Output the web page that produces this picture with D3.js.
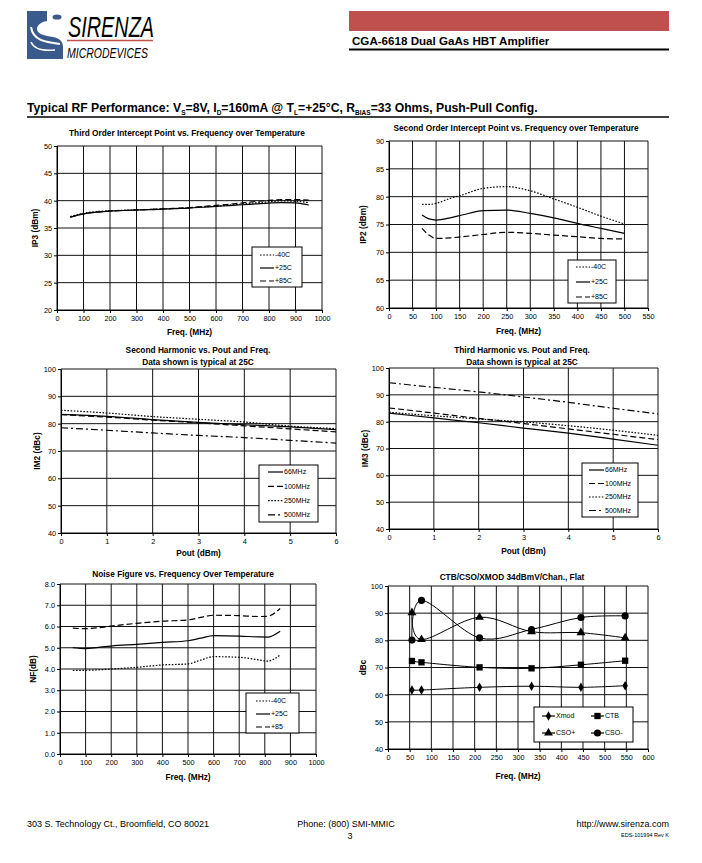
<!DOCTYPE html>
<html><head><meta charset="utf-8">
<script src="https://cdn.jsdelivr.net/npm/d3@7"></script>
<style>
body{margin:0;background:#fff}
svg{display:block}
text{font-family:"Liberation Sans",Arial,Helvetica,sans-serif;fill:#000}
</style>
</head><body>
<svg id="page" width="702" height="863"></svg>
<script>
// ---------- DATA ----------
// Chart 1: IP3 vs frequency
const ip3Freq = [50,100,150,200,250,300,350,400,450,500,550,600,650,700,750,800,850,900,950];
const ip3M40  = [37.1,37.7,38.0,38.15,38.25,38.3,38.4,38.5,38.6,38.7,38.85,39.0,39.2,39.4,39.6,39.8,39.95,39.9,39.6];
const ip3P25  = [37.0,37.6,37.9,38.1,38.2,38.3,38.35,38.45,38.55,38.65,38.8,38.95,39.1,39.25,39.4,39.55,39.65,39.6,39.2];
const ip3P85  = [37.0,37.6,37.9,38.1,38.2,38.3,38.4,38.5,38.6,38.75,38.95,39.15,39.35,39.6,39.85,40.05,40.2,40.2,40.1];
// Chart 2: IP2 vs frequency
const ip2Freq = [70,85,100,130,155,200,250,300,350,400,450,500];
const ip2M40  = [78.6,78.6,78.8,79.7,80.3,81.5,81.8,81.05,79.6,78.1,76.5,75.1];
const ip2P25  = [76.7,76.0,75.8,76.2,76.7,77.5,77.6,77.0,76.2,75.2,74.3,73.4];
const ip2P85  = [74.3,73.1,72.5,72.6,72.8,73.2,73.6,73.4,73.1,72.8,72.5,72.4];
// Chart 3: IM2 vs Pout
const pout     = [0,1,2,3,4,5,6];
const im2_66   = [83.4,82.7,81.5,80.5,79.6,78.8,77.8];
const im2_100  = [83.3,82.4,81.3,80.3,79.2,78.1,77.0];
const im2_250  = [84.9,83.9,82.6,81.6,80.6,79.1,78.2];
const im2_500  = [78.5,77.6,76.6,75.7,74.9,73.9,72.9];
// Chart 4: IM3 vs Pout
const im3_66   = [83.2,81.4,79.6,77.6,75.7,73.5,71.2];
const im3_100  = [85.1,83.2,81.2,79.3,77.3,75.3,73.3];
const im3_250  = [83.5,82.2,81.0,79.9,78.5,76.8,74.9];
const im3_500  = [94.5,92.8,91.1,89.2,87.2,85.0,82.9];
// Chart 5: Noise figure
const nfFreq = [50,100,150,200,300,400,500,550,600,700,775,810,860];
const nfM40  = [3.93,3.94,3.96,4.00,4.08,4.19,4.24,4.42,4.58,4.55,4.43,4.37,4.66];
const nfP25  = [5.00,4.96,5.02,5.08,5.16,5.25,5.33,5.45,5.57,5.55,5.51,5.50,5.78];
const nfP85  = [5.92,5.90,5.94,6.02,6.15,6.25,6.31,6.43,6.53,6.51,6.47,6.48,6.85];
// Chart 6: CTB/CSO/XMOD
const catvFreq = [55.25,77.25,211.25,331.25,445.25,547.25];
const xmod     = [61.7,61.7,62.7,63.1,62.7,63.3];
const ctb      = [72.4,71.9,70.05,69.7,71.0,72.5];
const csoPlus  = [90.2,80.3,88.5,83.2,82.8,80.9];
const csoMinus = [80.1,94.7,80.9,84.0,88.4,89.0];

// Tick labels
const ticksFreq1000 = d3.range(0,1001,100);
const ticksFreq550  = d3.range(0,551,50);
const ticksFreq600  = d3.range(0,601,50);
const ticksPout     = [0,1,2,3,4,5,6];
const ticksIP3      = d3.range(20,51,5);
const ticksIP2      = d3.range(60,91,5);
const ticksIM       = d3.range(40,101,10);
const ticksNF       = d3.range(0,8.01,1);
const ticksDBc      = d3.range(40,101,10);

// ---------- STYLES ----------
const DOT = "1.6,1.6", DASH = "6,3", DASHDOT = "7,3,2,3";

const svg = d3.select("#page");

function chart(c){
  const g = svg.append("g");
  const x = d3.scaleLinear().domain(c.xDomain).range([c.x0,c.x1]);
  const y = d3.scaleLinear().domain(c.yDomain).range([c.y1,c.y0]);
  // grid
  g.append("g").selectAll("line").data(c.xTicks).join("line")
    .attr("x1",d=>x(d)).attr("x2",d=>x(d)).attr("y1",c.y0).attr("y2",c.y1)
    .attr("stroke","#111").attr("stroke-width",1);
  g.append("g").selectAll("line").data(c.yTicks).join("line")
    .attr("y1",d=>y(d)).attr("y2",d=>y(d)).attr("x1",c.x0).attr("x2",c.x1)
    .attr("stroke","#111").attr("stroke-width",1);
  // axes
  const ax = g.append("g").attr("transform",`translate(0,${c.y1})`)
    .call(d3.axisBottom(x).tickValues(c.xTicks).tickSize(3).tickPadding(3).tickFormat(c.xFmt||d3.format("d")));
  const ay = g.append("g").attr("transform",`translate(${c.x0},0)`)
    .call(d3.axisLeft(y).tickValues(c.yTicks).tickSize(3).tickPadding(2).tickFormat(c.yFmt||d3.format("d")));
  [ax,ay].forEach(a=>{
    a.selectAll("text").attr("font-size",7.3).attr("fill","#000")
      .attr("font-family","'Liberation Sans',Arial,sans-serif");
    a.selectAll("line,path").attr("stroke","#000");
  });
  // titles
  c.title.forEach((t,i)=>{
    g.append("text").attr("x",c.titleX).attr("y",c.titleY+i*12).attr("text-anchor","middle")
      .attr("font-size",8.3).attr("font-weight","bold").text(t);
  });
  g.append("text").attr("x",(c.x0+c.x1)/2).attr("y",c.y1+c.xTitleDy).attr("text-anchor","middle")
    .attr("font-size",8.3).attr("font-weight","bold").text(c.xTitle);
  g.append("text").attr("transform",`translate(${c.yTitleX},${(c.y0+c.y1)/2}) rotate(-90)`)
    .attr("text-anchor","middle").attr("dy","0.35em")
    .attr("font-size",8.3).attr("font-weight","bold").text(c.yTitle);
  // series
  c.series.forEach(s=>{
    const pts = s.xs.map((v,i)=>[v,s.ys[i]]);
    g.append("path").datum(pts)
      .attr("d", d3.line().x(d=>x(d[0])).y(d=>y(d[1])).curve(s.curve||d3.curveMonotoneX))
      .attr("fill","none").attr("stroke",s.color||"#000").attr("stroke-width",s.w||1.2)
      .attr("stroke-dasharray",s.dash||null);
    if(s.symbol){
      g.append("g").selectAll("path").data(pts).join("path")
        .attr("transform",d=>`translate(${x(d[0])},${y(d[1])})`)
        .attr("d",d3.symbol().type(s.symbol).size(s.symSize||34))
        .attr("fill","#000");
    }
  });
  // legend
  const L = c.legend;
  g.append("rect").attr("x",L.x).attr("y",L.y).attr("width",L.w).attr("height",L.h)
    .attr("fill","#fff").attr("stroke","#000").attr("stroke-width",1);
  c.series.forEach((s,i)=>{
    const col = L.cols ? i % L.cols : 0;
    const row = L.cols ? Math.floor(i / L.cols) : i;
    const lx = L.x + L.lineX + col*(L.colW||0), ly = L.y + L.rowY0 + row*L.rowH;
    g.append("line").attr("x1",lx).attr("x2",lx+L.lineW).attr("y1",ly).attr("y2",ly)
      .attr("stroke","#000").attr("stroke-width",1.2).attr("stroke-dasharray",s.dash||null);
    if(s.symbol){
      g.append("path").attr("transform",`translate(${lx+L.lineW/2},${ly})`)
        .attr("d",d3.symbol().type(s.symbol).size(s.symSize||34)).attr("fill","#000");
    }
    g.append("text").attr("x",lx+L.lineW+1).attr("y",ly).attr("dy","0.35em")
      .attr("font-size",7).text(s.name);
  });
}

// ---------- HEADER ----------
const logoBlue = "#3a5a8c";
svg.append("path").attr("fill",logoBlue)
  .attr("d","M27,11 H47 V21 C41,22 37,25 37,29 C37,34 45,36 53,37 C59,38 63,41 63,47 V59 H27 Z");
svg.append("path").attr("fill","none").attr("stroke","#fff").attr("stroke-width",2)
  .attr("d","M31,27 C33,40 44,42 60,44");
svg.append("path").attr("fill","none").attr("stroke","#fff").attr("stroke-width",1.5)
  .attr("d","M31,42 C34,50 44,51 55,50");
svg.append("ellipse").attr("cx",57).attr("cy",17).attr("rx",4.5).attr("ry",2.6).attr("fill",logoBlue);
svg.append("text").attr("x",68).attr("y",37).attr("font-size",29).attr("font-style","italic")
  .attr("font-family","'Liberation Sans Narrow','DejaVu Sans Condensed',sans-serif")
  .attr("textLength",86).attr("lengthAdjust","spacingAndGlyphs")
  .attr("fill",logoBlue).text("SIRENZA");
svg.append("line").attr("x1",67).attr("x2",153).attr("y1",40.5).attr("y2",40.5)
  .attr("stroke","#c0504d").attr("stroke-width",1.5);
svg.append("text").attr("x",67).attr("y",58).attr("font-size",15).attr("font-style","italic")
  .attr("font-family","'Liberation Sans Narrow','DejaVu Sans Condensed',sans-serif")
  .attr("textLength",81).attr("lengthAdjust","spacingAndGlyphs")
  .attr("fill",logoBlue).text("MICRODEVICES");

svg.append("rect").attr("x",349).attr("y",11).attr("width",320).attr("height",20).attr("fill","#c0504d");
svg.append("text").attr("x",352).attr("y",45).attr("font-size",11.6).attr("font-weight","bold")
  .text("CGA-6618 Dual GaAs HBT Amplifier");
svg.append("line").attr("x1",349).attr("x2",669).attr("y1",49.5).attr("y2",49.5).attr("stroke","#000").attr("stroke-width",2);

const hdr = svg.append("text").attr("x",27).attr("y",112).attr("font-size",12.2).attr("font-weight","bold");
const hparts = [["Typical RF Performance:  V",0],["S",1],["=8V,  I",0],["D",1],["=160mA @ T",0],["L",1],["=+25°C,  R",0],["BIAS",1],["=33 Ohms, Push-Pull Config.",0]];
hparts.forEach((p,i)=>{
  const t = hdr.append("tspan").text(p[0]);
  if(p[1]) t.attr("font-size",6.5).attr("dy",3);
  else t.attr("dy", i>0 && hparts[i-1][1] ? -3 : 0);
});
svg.append("line").attr("x1",27).attr("x2",669).attr("y1",117).attr("y2",117).attr("stroke","#000").attr("stroke-width",1.5);

// ---------- CHARTS ----------
chart({x0:57,x1:322,y0:146,y1:310,xDomain:[0,1000],yDomain:[20,50],xTicks:ticksFreq1000,yTicks:ticksIP3,
  title:["Third Order Intercept Point vs. Frequency over Temperature"],titleX:187,titleY:136,
  xTitle:"Freq. (MHz)",xTitleDy:25,yTitle:"IP3 (dBm)",yTitleX:35,
  legend:{x:252,y:247,w:50,h:40,lineX:8,lineW:14,rowY0:8,rowH:13},
  series:[{name:"-40C",xs:ip3Freq,ys:ip3M40,dash:DOT},{name:"+25C",xs:ip3Freq,ys:ip3P25},{name:"+85C",xs:ip3Freq,ys:ip3P85,dash:DASH}]});

chart({x0:389,x1:648,y0:141,y1:308,xDomain:[0,550],yDomain:[60,90],xTicks:ticksFreq550,yTicks:ticksIP2,
  title:["Second Order Intercept Point vs. Frequency over Temperature"],titleX:516,titleY:131,
  xTitle:"Freq. (MHz)",xTitleDy:26,yTitle:"IP2 (dBm)",yTitleX:363,
  legend:{x:568,y:260,w:48,h:43,lineX:8,lineW:14,rowY0:7,rowH:15},
  series:[{name:"-40C",xs:ip2Freq,ys:ip2M40,dash:DOT},{name:"+25C",xs:ip2Freq,ys:ip2P25},{name:"+85C",xs:ip2Freq,ys:ip2P85,dash:DASH}]});

chart({x0:61,x1:336,y0:369,y1:533,xDomain:[0,6],yDomain:[40,100],xTicks:ticksPout,yTicks:ticksIM,
  title:["Second Harmonic vs. Pout and Freq.","Data shown is typical at 25C"],titleX:198,titleY:353,
  xTitle:"Pout (dBm)",xTitleDy:23,yTitle:"IM2 (dBc)",yTitleX:37,
  legend:{x:259,y:465,w:59,h:57,lineX:9,lineW:15,rowY0:7,rowH:14.3},
  series:[{name:"66MHz",xs:pout,ys:im2_66},{name:"100MHz",xs:pout,ys:im2_100,dash:DASH},
          {name:"250MHz",xs:pout,ys:im2_250,dash:DOT},{name:"500MHz",xs:pout,ys:im2_500,dash:DASHDOT}]});

chart({x0:389,x1:658,y0:368,y1:529,xDomain:[0,6],yDomain:[40,100],xTicks:ticksPout,yTicks:ticksIM,
  title:["Third Harmonic vs. Pout and Freq.","Data shown is typical at 25C"],titleX:522,titleY:353,
  xTitle:"Pout (dBm)",xTitleDy:25,yTitle:"IM3 (dBc)",yTitleX:365,
  legend:{x:582,y:463,w:56,h:54,lineX:7,lineW:15,rowY0:7,rowH:13.5},
  series:[{name:"66MHz",xs:pout,ys:im3_66},{name:"100MHz",xs:pout,ys:im3_100,dash:DASH},
          {name:"250MHz",xs:pout,ys:im3_250,dash:DOT},{name:"500MHz",xs:pout,ys:im3_500,dash:DASHDOT}]});

chart({x0:60,x1:316,y0:584,y1:754,xDomain:[0,1000],yDomain:[0,8],xTicks:ticksFreq1000,yTicks:ticksNF,yFmt:d3.format(".1f"),
  title:["Noise Figure vs. Frequency Over Temperature"],titleX:183,titleY:577,
  xTitle:"Freq. (MHz)",xTitleDy:26,yTitle:"NF(dB)",yTitleX:33,
  legend:{x:246,y:693,w:53,h:40,lineX:10,lineW:14,rowY0:8,rowH:13},
  series:[{name:"-40C",xs:nfFreq,ys:nfM40,dash:DOT},{name:"+25C",xs:nfFreq,ys:nfP25},{name:"+85",xs:nfFreq,ys:nfP85,dash:DASH}]});

chart({x0:388,x1:648,y0:586,y1:749,xDomain:[0,600],yDomain:[40,100],xTicks:ticksFreq600,yTicks:ticksDBc,
  title:["CTB/CSO/XMOD 34dBmV/Chan., Flat"],titleX:512,titleY:580,
  xTitle:"Freq. (MHz)",xTitleDy:30,yTitle:"dBc",yTitleX:363,
  legend:{x:534,y:707,w:99,h:35,lineX:8,lineW:13,rowY0:9,rowH:17,cols:2,colW:49},
  series:[{name:"Xmod",xs:catvFreq,ys:xmod,symbol:d3.symbolDiamond,symSize:26,curve:d3.curveCatmullRom.alpha(0),w:1},
          {name:"CTB",xs:catvFreq,ys:ctb,symbol:d3.symbolSquare,symSize:40,curve:d3.curveCatmullRom.alpha(0),w:1},
          {name:"CSO+",xs:catvFreq,ys:csoPlus,symbol:d3.symbolTriangle,symSize:34,curve:d3.curveCatmullRom.alpha(0),w:1},
          {name:"CSO-",xs:catvFreq,ys:csoMinus,symbol:d3.symbolCircle,symSize:40,curve:d3.curveCatmullRom.alpha(0),w:1}]});

// ---------- FOOTER ----------
svg.append("text").attr("x",27).attr("y",827).attr("font-size",9).text("303 S. Technology Ct., Broomfield, CO 80021");
svg.append("text").attr("x",346).attr("y",827).attr("font-size",9).attr("text-anchor","middle").text("Phone: (800) SMI-MMIC");
svg.append("text").attr("x",350).attr("y",839).attr("font-size",9).attr("text-anchor","middle").text("3");
svg.append("text").attr("x",669).attr("y",827).attr("font-size",9).attr("text-anchor","end").text("http://www.sirenza.com");
svg.append("text").attr("x",669).attr("y",837).attr("font-size",5.5).attr("text-anchor","end").text("EDS-101994 Rev K");
</script>
</body></html>
